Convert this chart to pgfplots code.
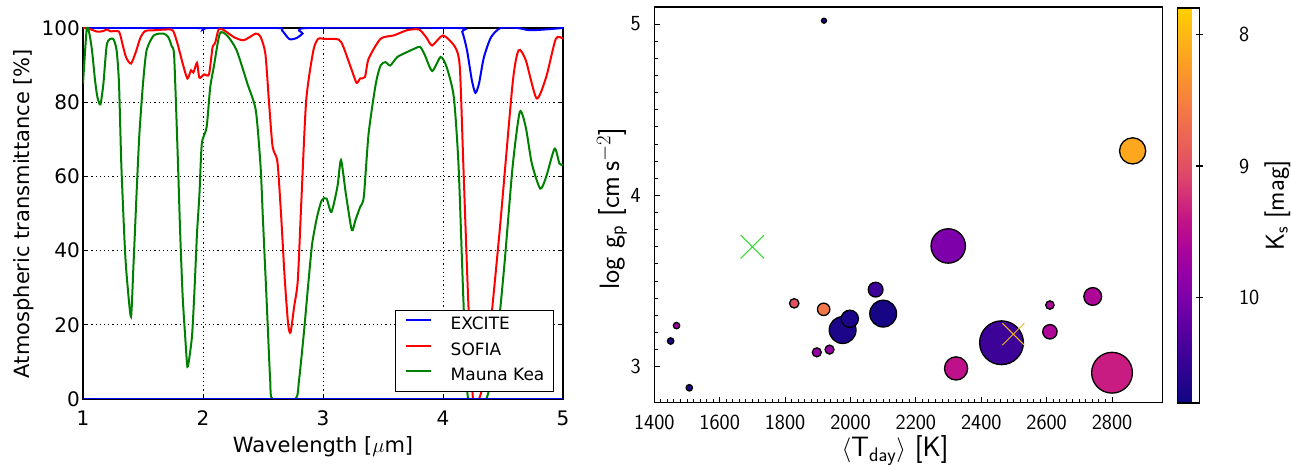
\documentclass[border=0pt]{standalone}
\usepackage{pgfplots}
\pgfplotsset{compat=1.18}
\usepackage{pgfplotstable}
\usepackage{fontspec}
\newfontfamily\dejavu{DejaVu Sans}
\pgfplotsset{colormap={plasmar}{rgb255=(255,208,0) rgb255=(254,184,20) rgb255=(251,161,33) rgb255=(248,139,51) rgb255=(243,118,72) rgb255=(234,99,86) rgb255=(225,80,100) rgb255=(212,53,117) rgb255=(196,20,135) rgb255=(174,6,151) rgb255=(150,0,165) rgb255=(125,0,170) rgb255=(95,0,163) rgb255=(67,1,154) rgb255=(41,4,142) rgb255=(15,6,130)}}
\definecolor{mblue}{rgb}{0,0,1}
\definecolor{mred}{rgb}{1,0,0}
\definecolor{mgreen}{rgb}{0,0.5,0}
\definecolor{xgreen}{RGB}{50,220,50}
\definecolor{xgold}{RGB}{240,180,30}

\pgfplotstableread{
w t
1.00 100
1.95 100
2.00 99.6
2.05 100
2.62 100
2.66 99.3
2.72 97
2.78 97.3
2.83 98.5
2.87 100
4.12 100
4.16 99
4.20 94
4.24 86
4.27 82.5
4.30 85
4.34 92
4.40 97.5
4.48 100
4.62 100
4.72 99.4
4.85 99.6
5.00 100
}\excite

\pgfplotstableread{
w t
1.00 100
1.05 99.8
1.12 99.0
1.17 99.2
1.20 99.6
1.23 99.1
1.30 99.0
1.33 95.5
1.36 92.0
1.40 90.4
1.44 93.5
1.48 97.5
1.52 99.2
1.60 99.4
1.70 99.6
1.75 99.3
1.79 95.5
1.83 90.5
1.87 86.4
1.90 88.6
1.92 88.0
1.95 90.6
1.97 86.6
2.01 87.5
2.05 87.5
2.08 94.9
2.10 95.8
2.13 99.6
2.17 99.5
2.26 97.5
2.34 96.7
2.44 98.5
2.48 97.6
2.52 93.0
2.55 80
2.58 68
2.62 64
2.65 50
2.68 33
2.71 20
2.73 18
2.76 25
2.79 32
2.82 53.6
2.86 80.5
2.92 94
2.96 97.1
3.00 97.1
3.13 96.9
3.17 94.9
3.24 88.6
3.28 85.2
3.31 86.4
3.35 86.8
3.38 91.7
3.48 97.1
3.59 98
3.70 99.4
3.80 99.6
3.86 97.5
3.91 95.3
4.00 98
4.10 94.9
4.14 89.5
4.17 62.6
4.21 26.7
4.25 0
4.30 0
4.36 8.7
4.47 44.6
4.58 85
4.63 94
4.69 91.3
4.78 81
4.86 86.8
4.94 97.1
5.00 97.1
}\sofia

\pgfplotstableread{
w t
1.00 85
1.03 99.4
1.05 99
1.075 94
1.10 86
1.12 81.4
1.145 79.4
1.17 85
1.20 95.8
1.25 97.1
1.28 94
1.30 85
1.32 62.6
1.35 40
1.37 31
1.40 22.2
1.42 35.6
1.45 58
1.47 71.5
1.50 85
1.53 94
1.59 98
1.67 98.5
1.71 97.6
1.74 95
1.76 92.2
1.79 65
1.81 44.6
1.83 28
1.85 17.6
1.87 8.7
1.89 12
1.91 17.6
1.93 30
1.95 44.6
1.97 55
1.99 68.8
2.03 73.2
2.06 84
2.09 89.5
2.14 98.5
2.20 98
2.28 94
2.37 85
2.44 77.8
2.48 62.6
2.50 48
2.53 26.7
2.56 5
2.58 0
2.77 0
2.80 5
2.84 17.6
2.88 32
2.91 41.9
2.95 49
2.99 53.6
3.03 54
3.07 50.4
3.12 57.2
3.15 64.4
3.19 55.4
3.24 45.5
3.27 48.2
3.31 51.8
3.34 54.5
3.38 71.5
3.44 85
3.48 89.9
3.52 90.8
3.56 89.9
3.62 92.2
3.70 93.5
3.76 94.4
3.81 94.9
3.85 92.6
3.91 88.4
3.98 92.2
4.03 89.5
4.09 81.4
4.13 62.6
4.17 26.7
4.21 0
4.36 0
4.44 13
4.51 35.6
4.58 62.6
4.64 77.4
4.69 73.2
4.74 63.5
4.81 56.7
4.86 59.9
4.93 67.5
4.97 63.5
5.00 63
}\maunakea

\pgfplotstableread{
T g k r
1919 5.02 10.7 2.5
1468 3.24 9.7 3.2
1450 3.15 10.7 3.2
1507 2.877 10.7 3.2
1828 3.37 9.0 4.7
1918 3.335 8.6 6.2
1897 3.084 9.8 4.5
1936 3.10 9.8 4.5
1976 3.214 10.7 13.4
1998 3.28 10.7 8.6
2077 3.45 10.45 7.4
2100 3.31 10.75 13.4
2299 3.705 10.0 17.2
2323 2.99 9.45 11.6
2863 4.26 8.15 13.1
2462 3.14 10.45 21.9
2610 3.36 9.6 4.2
2610 3.204 9.6 7.2
2741 3.41 9.6 8.9
2800 2.965 9.35 20.4
}\planets

\begin{document}
\begin{tikzpicture}
\useasboundingbox (0,0) rectangle (1291pt,465pt);
\begin{axis}[
  at={(83pt,66pt)}, anchor=south west, scale only axis,
  width=480pt, height=371pt,
  xmin=1, xmax=5, ymin=0, ymax=100,
  xtick={1,2,3,4,5}, ytick={0,20,40,60,80,100},
  tick align=inside, major tick length=5pt,
  axis line style={line width=1.3pt},
  every tick/.style={black, line width=1pt},
  grid=major, major grid style={black, line width=1pt, dash pattern=on 1.2pt off 3pt},
  /pgf/number format/assume math mode=true,
  ticklabel style={font=\dejavu\fontsize{20}{24}\selectfont},
  yticklabel style={inner sep=0pt, anchor=east, xshift=-3pt},
  xticklabel style={inner sep=0pt, anchor=north, yshift=-11.5pt},
  label style={font=\dejavu\fontsize{21}{25}\selectfont},
  xlabel={Wavelength [$\mu$m]},
  ylabel={Atmospheric transmittance [\%]},
  xlabel style={at={(axis description cs:0.5,-0.1294)}, anchor=center},
  ylabel style={at={(axis description cs:-0.1229,0.5)}, anchor=center},
  legend style={at={(1,0)}, anchor=south east, xshift=-9pt, yshift=7pt,
    draw=black, line width=1.3pt, font=\dejavu\fontsize{17}{20}\selectfont,
    inner xsep=9pt, inner ysep=7.5pt, row sep=10.5pt,
    nodes={inner sep=0pt, text height=12pt, text depth=3pt},
    /tikz/every odd column/.append style={column sep=19pt}},
  legend cell align=left,
  legend image code/.code={\draw[#1] (0pt,5pt) -- (25pt,5pt);},
]
\addplot[mblue, line width=2pt, smooth, tension=0.4] table[x=w,y=t]{\excite};
\addlegendentry{EXCITE}
\addplot[mred, line width=2pt, smooth, tension=0.4] table[x=w,y=t]{\sofia};
\addlegendentry{SOFIA}
\addplot[mgreen, line width=2pt, smooth, tension=0.4] table[x=w,y=t]{\maunakea};
\addlegendentry{Mauna Kea}
\addplot[mblue, line width=2pt, forget plot] coordinates {(1,0) (5,0)};
\end{axis}

\begin{axis}[
  at={(654.3pt,62.3pt)}, anchor=south west, scale only axis,
  width=508.4pt, height=395.7pt,
  xmin=1400, xmax=2955, ymin=2.79, ymax=5.1,
  xtick={1400,1600,...,2800}, ytick={3,4,5},
  minor x tick num=9, minor y tick num=9,
  tick pos=left, tick align=inside,
  major tick length=6pt, minor tick length=3.5pt,
  axis line style={line width=1.3pt},
  every tick/.style={black, line width=1pt},
  /pgf/number format/assume math mode=true,
  /pgf/number format/1000 sep={},
  scaled x ticks=false,
  ticklabel style={font=\sffamily\fontsize{21.5}{25}\selectfont},
  yticklabel style={inner sep=0pt, anchor=east, xshift=-13.5pt},
  xticklabel style={inner sep=0pt, anchor=north, yshift=-12.3pt},
  label style={font=\sffamily\fontsize{28}{32}\selectfont},
  xlabel={$\langle$T$_{\mathsf{day}}\rangle$ [K]},
  ylabel={log g$_{\mathsf{p}}$ [cm\,s$^{-2}$]},
  xlabel style={at={(axis description cs:0.4734,-0.121)}, anchor=center},
  ylabel style={at={(axis description cs:-0.0835,0.49)}, anchor=center},
  colormap name=plasmar,
  point meta min=7.8, point meta max=10.8,
  colorbar,
  colorbar style={
    at={(parent axis.north east)}, anchor=north west, xshift=6.1pt, yshift=-1pt,
    width=22pt, height=395pt,
    y dir=reverse,
    ytick={8,9,10}, minor y tick num=0,
    ytick pos=right, yticklabel pos=right,
    tick align=center, major tick length=7pt,
    every tick/.style={black, line width=1.2pt},
    axis line style={line width=1.3pt},
    /pgf/number format/assume math mode=true,
    yticklabel style={font=\sffamily\fontsize{21.5}{25}\selectfont, inner sep=0pt, anchor=west, xshift=36pt},
    ylabel={K$_{\mathsf{s}}$ [mag]},
    ylabel style={font=\sffamily\fontsize{26}{30}\selectfont, at={(axis description cs:4.55,0.5)}, anchor=center},
  },
]
\addplot[scatter, only marks, mark=*,
  point meta=\thisrow{k},
  scatter/use mapped color={draw=black, fill=mapped color},
  visualization depends on={\thisrow{r} \as \rr},
  scatter/@pre marker code/.append style={/tikz/mark size=\rr pt},
  mark options={line width=1.3pt}]
  table[x=T,y=g]{\planets};
\addplot[only marks, mark=x, mark size=16.5pt, xgreen, mark options={line width=1pt}] coordinates {(1700,3.70)};
\addplot[only marks, mark=x, mark size=15.5pt, xgold, mark options={line width=1pt}] coordinates {(2498,3.19)};
\end{axis}
\end{tikzpicture}
\end{document}
